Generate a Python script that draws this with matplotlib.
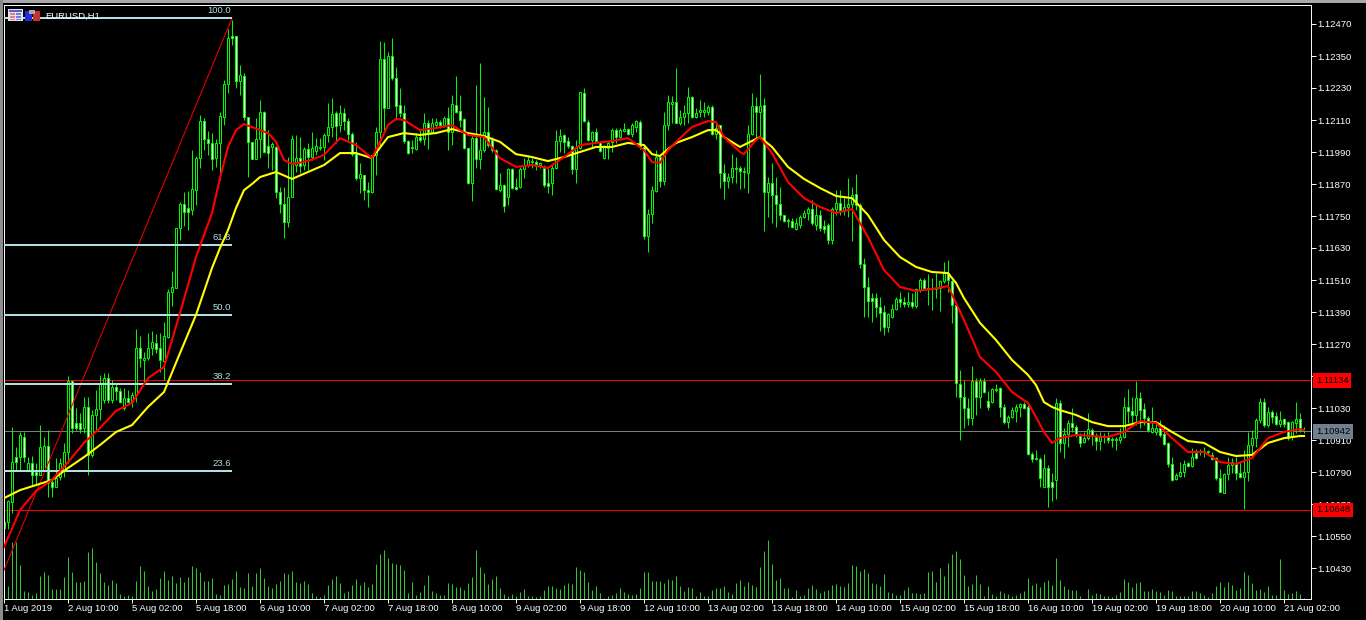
import numpy as np
import matplotlib
matplotlib.use('Agg')
import matplotlib.pyplot as plt
from matplotlib.patches import Rectangle

# EURUSD H1 prices, in points above 1.10000
opens = [602,602,677,846,846,921,797,824,790,779,
    797,888,752,734,771,797,865,1131,974,974,
    955,1034,854,1004,1026,1060,1142,1060,1109,1094,
    1030,1068,1052,1079,1255,1210,1218,1255,1274,1255,
    1206,1296,1465,1480,1705,1795,1780,1772,1847,1967,
    2106,2039,2024,1967,2024,2121,2245,2425,2425,2256,
    2275,2121,2028,1964,2039,2140,2012,2009,2009,1840,
    1795,1727,1821,1941,1967,1941,2001,1971,1994,2005,
    2009,2054,2084,2136,2091,2136,2106,2058,1982,1892,
    1904,1847,1840,1979,2065,2339,2155,2350,2267,2166,
    2136,2031,2005,2001,2046,2039,2099,2065,2091,2102,
    2091,2118,2065,2166,2144,2114,2005,1874,2042,1964,
    1997,2065,2035,1997,1847,1866,1821,1926,1859,1859,
    1926,1941,1952,1952,1941,1930,1874,1874,1930,2031,
    2054,2031,2012,1926,2005,2211,2102,2035,2065,2028,
    1967,2005,2028,2072,2046,2069,2076,2058,2084,2102,
    2009,1675,1757,1844,1971,1881,2091,2170,2178,2099,
    2121,2136,2196,2121,2140,2140,2140,2159,2058,2091,
    1911,1881,1896,1926,1930,1915,1911,2058,2162,2140,
    2166,1840,1874,1829,1795,1754,1731,1731,1701,1716,
    1746,1761,1776,1716,1754,1712,1716,1660,1776,1799,
    1769,1784,1795,1832,1791,1570,1484,1442,1442,1409,
    1390,1334,1371,1401,1439,1428,1420,1428,1412,1472,
    1510,1476,1476,1476,1480,1506,1536,1506,1416,1120,
    1071,1030,992,1131,1071,1131,1056,1052,1097,1105,
    1034,977,996,1019,1034,1045,1034,857,839,839,
    734,805,752,760,1049,899,932,974,959,925,
    902,917,948,921,906,921,921,910,910,910,
    921,1034,1019,1004,1067,1026,992,940,940,955,
    932,899,820,764,775,790,824,812,861,865,
    865,865,854,842,767,711,782,816,824,786,
    771,790,891,917,985,1052,966,1015,1000,970,
    989,977,921,974,989,942]
closes = [580,681,827,827,929,846,824,779,779,884,
    888,749,734,767,824,865,1131,955,955,951,
    1034,854,1004,1026,1124,1142,1060,1109,1094,1052,
    1068,1052,1079,1255,1218,1218,1255,1278,1251,1210,
    1300,1465,1484,1705,1795,1765,1765,1851,1967,2106,
    2039,2024,1964,2024,2125,2245,2418,2418,2256,2279,
    2121,2028,1964,2039,2140,1990,1986,2020,1840,1795,
    1727,1821,2039,1967,1937,2001,1971,2005,2012,2009,
    2054,2084,2132,2087,2136,2106,2058,1982,1892,1907,
    1847,1840,1979,2065,2339,2155,2350,2267,2162,2136,
    2031,1986,2009,2046,2035,2099,2065,2099,2102,2091,
    2118,2065,2170,2140,2110,2005,1874,2042,1964,1997,
    2065,2016,1997,1851,1866,1787,1926,1855,1851,1926,
    1941,1960,1956,1945,1949,1866,1862,1930,2031,2050,
    2028,2012,1926,2005,2215,2106,2035,2065,2031,1994,
    2009,2024,2072,2046,2072,2076,2058,2091,2106,2009,
    1675,1757,1847,1971,1881,2091,2178,2178,2099,2121,
    2136,2196,2121,2136,2148,2148,2159,2058,2080,1911,
    1881,1896,1930,1930,1919,1919,2058,2162,2140,2162,
    1840,1874,1829,1795,1754,1731,1735,1709,1724,1746,
    1761,1776,1724,1754,1705,1701,1660,1776,1799,1772,
    1784,1795,1829,1791,1570,1484,1431,1431,1409,1386,
    1334,1382,1401,1439,1428,1420,1428,1412,1476,1510,
    1480,1480,1480,1480,1506,1536,1510,1416,1124,1071,
    1030,992,1131,1071,1131,1090,1034,1101,1101,1034,
    977,996,1022,1034,1045,1030,857,839,842,767,
    805,734,734,1049,899,932,974,959,929,899,
    917,951,925,906,921,925,910,914,914,921,
    1034,1019,1004,1067,1022,992,948,955,955,929,
    895,820,760,779,790,820,812,846,842,869,
    869,869,839,767,715,782,816,827,786,771,
    790,891,917,985,1052,966,1015,996,970,985,
    970,917,977,989,947,942]
highs = [617,685,959,884,940,940,846,850,824,966,
    921,948,767,842,842,899,1150,1135,1030,1011,
    1071,1071,1022,1097,1154,1161,1161,1135,1124,1105,
    1105,1098,1090,1326,1300,1240,1311,1319,1307,1311,
    1352,1476,1544,1705,1802,1840,1844,1997,1975,2129,
    2118,2069,2061,2039,2140,2260,2451,2485,2425,2316,
    2286,2121,2028,2118,2185,2145,2073,2028,2012,1859,
    1859,1971,2054,2054,2046,2009,2024,2065,2042,2042,
    2061,2174,2192,2144,2166,2155,2118,2065,2028,1949,
    1904,1877,1979,2084,2406,2402,2365,2417,2309,2230,
    2166,2035,2035,2061,2072,2136,2110,2118,2118,2110,
    2125,2159,2204,2275,2204,2118,2005,2054,2241,2324,
    2196,2159,2046,2001,1911,1870,1930,1930,1892,1934,
    1967,1979,1967,1960,1952,1941,1930,1941,2072,2076,
    2058,2046,2016,2035,2215,2230,2110,2069,2080,2031,
    2016,2031,2080,2080,2080,2099,2080,2099,2110,2110,
    2016,1776,1862,1997,1979,2140,2204,2200,2305,2148,
    2166,2234,2200,2155,2185,2178,2166,2166,2095,2091,
    1945,1911,1982,1971,1937,1934,2091,2211,2196,2282,
    2192,1896,1949,1896,1859,1754,1742,1742,1742,1754,
    1772,1784,1810,1791,1772,1735,1724,1784,1847,1847,
    1821,1892,1859,1907,1799,1592,1521,1461,1461,1446,
    1416,1386,1420,1446,1465,1446,1465,1461,1480,1517,
    1517,1532,1517,1536,1510,1577,1585,1521,1424,1172,
    1135,1067,1188,1142,1142,1142,1094,1105,1120,1109,
    1045,1004,1034,1045,1049,1052,1041,865,872,846,
    857,816,786,1067,1060,955,985,1030,966,936,
    940,1011,955,936,940,936,940,921,921,955,
    1071,1101,1071,1131,1090,1049,1000,1034,974,985,
    966,902,846,786,827,835,827,880,876,876,
    884,872,865,846,801,786,846,842,846,827,
    872,940,948,992,1067,1067,1034,1022,1015,1019,
    992,981,981,1052,1011,958]
lows = [580,576,636,797,797,827,797,741,741,779,
    790,696,696,734,760,771,824,936,948,936,
    936,779,846,948,985,1049,1049,1049,1060,1049,
    1022,1049,1034,1052,1184,1124,1210,1229,1236,1165,
    1135,1292,1412,1480,1660,1712,1697,1754,1791,1930,
    1997,1979,1922,1934,1885,2091,2211,2391,2230,2204,
    2110,1896,1964,1964,1967,1985,1930,1922,1817,1761,
    1667,1709,1821,1915,1911,1922,1922,1960,1979,1997,
    1960,2028,2046,2024,2065,2072,2035,1975,1885,1836,
    1810,1784,1836,1904,2009,2065,2155,2260,2110,2121,
    2024,1982,1986,1997,2028,2016,2001,2061,2080,2080,
    2084,1997,2016,2136,2084,2001,1870,1806,1930,1926,
    1990,2009,1990,1847,1840,1765,1791,1850,1847,1855,
    1892,1934,1930,1922,1930,1859,1836,1829,1926,1990,
    1986,2005,1907,1874,2001,2102,2031,2009,2028,1990,
    1964,1964,1990,2024,2035,2065,2054,2046,2065,2001,
    1664,1615,1724,1840,1859,1866,2072,2099,2099,2091,
    2091,2099,2118,2118,2121,2121,2129,2054,2039,1855,
    1814,1855,1874,1874,1851,1855,1836,2054,2035,2046,
    1694,1746,1724,1709,1735,1727,1709,1705,1697,1705,
    1742,1735,1716,1697,1694,1686,1645,1645,1754,1754,
    1754,1746,1656,1772,1555,1371,1371,1352,1371,1319,
    1304,1315,1368,1397,1409,1409,1409,1405,1405,1465,
    1472,1416,1397,1442,1394,1499,1465,1349,1071,910,
    955,966,966,1004,1030,1086,1022,1049,1090,996,
    970,955,992,977,996,1026,854,827,835,734,
    734,659,681,689,865,842,884,940,921,884,
    899,910,891,872,872,899,899,884,872,899,
    917,974,966,966,955,966,940,936,929,921,
    891,809,756,760,771,771,809,809,839,854,
    846,854,835,760,715,711,760,786,760,767,
    651,756,854,884,974,959,959,974,966,959,
    959,910,910,936,940,936]
volumes = [12,40,170,170,103,25,22,13,19,70,82,73,31,31,31,67,127,82,52,52,
    55,142,154,112,79,52,43,58,49,16,10,13,10,55,100,85,40,25,31,64,
    85,58,70,49,67,52,67,100,94,82,55,55,64,16,13,43,46,61,85,37,
    34,79,40,79,94,64,40,34,46,55,79,76,85,52,49,55,46,19,10,7,
    13,43,61,70,
    49,19,25,43,61,43,52,37,46,106,136,148,124,109,106,103,88,19,52,13,
    22,43,73,25,19,13,13,49,46,37,37,28,49,67,148,97,79,46,61,70,
    34,16,10,16,10,22,31,10,10,7,10,28,40,40,34,31,43,49,46,97,
    88,82,52,28,40,19,4,10,13,19,34,22,16,13,16,34,82,82,55,55,
    55,49,61,58,70,
    40,25,37,34,10,22,10,10,28,34,34,40,22,16,49,58,40,52,43,37,
    97,145,178,106,58,64,34,34,7,28,10,13,34,43,31,19,25,28,43,46,
    40,37,49,103,100,85,91,79,49,46,40,76,22,19,13,13,28,37,19,19,
    16,19,82,85,52,94,70,109,136,145,121,73,40,46,73,46,10,40,16,10,
    25,19,16,10,13,
    19,25,64,43,49,37,52,58,43,124,58,40,31,28,28,10,0,31,13,19,
    16,10,10,7,13,22,61,52,37,49,52,25,25,31,25,22,13,28,25,10,
    10,10,10,25,25,19,13,7,19,40,52,37,52,43,28,34,82,73,49,28,
    31,22,40,13,13,121,28,16,19,25,16,2]

# moving averages, read every fourth bar plus a few bends, same units as the prices
ma_bars = list(range(0, 325, 4)) + [325]
ma_fast = [509,647,719,760,827,899,955,1019,1049,1142,1184,1386,1596,1761,2009,2095,2072,2028,
    1945,1956,1979,2042,2016,1967,2091,2110,2072,2080,2091,2054,2046,1967,1934,1941,1930,1971,
    2016,2024,2031,2042,1997,1949,2028,2084,2106,2046,1990,2035,1986,1877,1817,1784,1761,1776,
    1671,1547,1484,1469,1476,1487,1360,1221,1165,1090,1049,940,917,929,925,921,940,981,974,917,
    865,865,827,820,842,917,940,951,947]
ma_slow = [692,722,741,760,805,846,891,940,966,1034,1090,1236,1379,1555,1697,1847,1896,1915,
    1889,1915,1941,1986,1986,1967,2046,2061,2054,2061,2076,2061,2050,2028,1982,1971,1956,1971,
    1990,2009,2009,2024,2016,1975,2024,2046,2072,2046,2009,2039,2009,1934,1889,1855,1825,1817,
    1754,1660,1596,1559,1540,1536,1442,1349,1285,1210,1154,1052,1022,1004,977,962,962,977,977,940,
    906,899,865,850,854,899,917,925,925]
fast_extra_bars = [54,58,66,70,94,98,162,166,178,185,189,238,258,262]
fast_extra = [1892,2072,2061,1960,2028,2114,1952,1997,2102,1982,2046,1424,996,899]
slow_extra_bars = [54,58,62,162,166,178,189,238,258,262]
slow_extra = [1630,1780,1870,1982,2001,2072,2046,1499,1116,1034]

fib_labels = ['23.6', '38.2', '50.0', '61.8', '100.0']
fib_prices = [794, 1120, 1379, 1641, 2492]
fib_end_bar = 57
trend_bars = [0, 57]
trend_prices = [422, 2492]
level_prices = [1134, 648]
current_price = 942
price_ticks = [1.10430, 1.10550, 1.10670, 1.10790, 1.10910, 1.11030, 1.11150, 1.11270, 1.11390,
    1.11510, 1.11630, 1.11750, 1.11870, 1.11990, 1.12110, 1.12230, 1.12350, 1.12470]
time_labels = ['1 Aug 2019', '2 Aug 10:00', '5 Aug 02:00', '5 Aug 18:00', '6 Aug 10:00', '7 Aug 02:00',
    '7 Aug 18:00', '8 Aug 10:00', '9 Aug 02:00', '9 Aug 18:00', '12 Aug 10:00', '13 Aug 02:00',
    '13 Aug 18:00', '14 Aug 10:00', '15 Aug 02:00', '15 Aug 18:00', '16 Aug 10:00', '19 Aug 02:00',
    '19 Aug 18:00', '20 Aug 10:00', '21 Aug 02:00']


def price(points):
    return 1.1 + np.asarray(points, dtype=float) / 1e5


def ma_line(bars, values, extra_bars, extra):
    all_bars = np.array(bars + extra_bars)
    all_values = np.array(values + extra)
    order = np.argsort(all_bars)
    return all_bars[order], price(all_values[order])


W, H = 1366, 620
PX = 0.7  # just under one pixel in points at dpi 100, so snapping lands on a pixel centre
plt.rcParams['font.family'] = ['Liberation Sans', 'DejaVu Sans']
fig = plt.figure(figsize=(W / 100, H / 100), dpi=100, facecolor='black')
rect = [4 / W, (H - 599) / H, 1307 / W, 594 / H]

# window chrome and the little chart icons, in pixels
chrome = fig.add_axes([0, 0, 1, 1], zorder=3)
chrome.set_xlim(0, W)
chrome.set_ylim(H, 0)
chrome.axis('off')
chrome.add_patch(Rectangle((0, 0), W, 3, color='#a8a8a8', lw=0))
chrome.add_patch(Rectangle((0, 0), 3, H, color='#8c8c8c', lw=0))
chrome.add_patch(Rectangle((8, 9), 15, 12, color='#e4e4f0', lw=0))
chrome.add_patch(Rectangle((9, 10), 13, 2, color='#5a62c8', lw=0))
for yy in (13, 16, 18.5):
    chrome.add_patch(Rectangle((10, yy), 5, 1.5, color='#e08080', lw=0))
    chrome.add_patch(Rectangle((16, yy), 5, 1.5, color='#7080d8', lw=0))
chrome.add_patch(Rectangle((25, 11), 7, 10, color='#2030d8', lw=0))
chrome.add_patch(Rectangle((33, 11), 7, 10, color='#c83030', lw=0))
chrome.add_patch(Rectangle((29, 10), 6, 4, color='#a8a8a8', lw=0))
chrome.text(45, 16, 'EURUSD,H1', color='white', fontsize=6.8, va='center', ha='left')

# volume sits behind the prices on its own scale
vol_ax = fig.add_axes(rect, zorder=0)
vol_ax.axis('off')
vol_ax.set_xlim(0, 326.75)
vol_ax.set_ylim(0, 1782)
vol_x = np.arange(len(volumes))
vol_ax.vlines(vol_x[:1], 0, volumes[:1], colors='#808080', lw=PX, snap=True)
vol_ax.vlines(vol_x[1:], 0, volumes[1:], colors='#32cd32', lw=PX, snap=True)

ax = fig.add_axes(rect, zorder=1)
ax.patch.set_visible(False)
ax.set_xlim(0, 326.75)
ax.set_ylim(1.1031375, 1.1254125)

o, c, hi, lo = price(opens), price(closes), price(highs), price(lows)
x = np.arange(len(o))
ax.hlines(price(level_prices), 0, 326.75, colors='#ff0000', lw=PX, zorder=1.5, snap=True)
ax.hlines(price(current_price), 0, 326.75, colors='#808080', lw=PX, zorder=1.5, snap=True)

ax.vlines(x, lo, hi, colors='#00ff00', lw=PX, zorder=2.1, snap=True)
ax.bar(x, np.abs(c - o), bottom=np.minimum(o, c), width=0.5,
       color=np.where(c < o, 'white', 'black'), edgecolor='#00ff00', lw=PX, zorder=2.2, snap=True)

# fibonacci retracement
ax.plot(trend_bars, price(trend_prices), color='#e00000', lw=0.8, zorder=3)
for lab, p in zip(fib_labels, fib_prices):
    ax.plot([0, fib_end_bar], [price(p), price(p)], color='#b0e0e6', lw=1.44, zorder=3,
            solid_capstyle='butt', snap=True)
    ax.annotate(lab, (fib_end_bar, price(p)), xytext=(-1, 2), textcoords='offset points',
                color='#b0e0e6', fontsize=6.8, ha='right', va='bottom', zorder=3)

slow_x, slow_y = ma_line(ma_bars, ma_slow, slow_extra_bars, slow_extra)
fast_x, fast_y = ma_line(ma_bars, ma_fast, fast_extra_bars, fast_extra)
ax.plot(slow_x, slow_y, color='#ffff00', lw=1.5, zorder=4, solid_joinstyle='round')
ax.plot(fast_x, fast_y, color='#ff0000', lw=1.5, zorder=4.1, solid_joinstyle='round')

for side in ax.spines.values():
    side.set_color('white')
    side.set_linewidth(PX)
ax.yaxis.tick_right()
ax.set_yticks(price_ticks)
ax.set_yticklabels(['%.5f' % t for t in price_ticks])
ax.set_xticks(range(0, 16 * len(time_labels), 16))
ax.set_xticklabels(time_labels, ha='left')
ax.tick_params(axis='y', colors='white', length=3.6, width=PX, pad=1, labelsize=6.8)
ax.tick_params(axis='x', colors='white', length=2.9, width=PX, pad=1, labelsize=6.8)

# price tags on the right scale
tags = [(level_prices[0], '#ff0000'), (current_price, '#708090'), (level_prices[1], '#ff0000')]
for p, col in tags:
    ax.annotate('%.5f' % price(p), (1, price(p)), xycoords=ax.get_yaxis_transform(),
                xytext=(3.6, 0), textcoords='offset points', color='black', fontsize=6.8,
                va='center', ha='left', annotation_clip=False, zorder=6,
                bbox=dict(boxstyle='square,pad=0.3', fc=col, ec=col, lw=0))

fig.savefig('out.png', dpi=100, facecolor='black')
